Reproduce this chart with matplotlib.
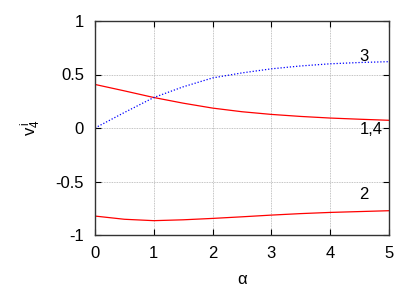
import matplotlib
matplotlib.use("Agg")
import matplotlib.pyplot as plt

plt.rcParams['font.family'] = ['Liberation Sans', 'DejaVu Sans']
plt.rcParams['mathtext.fontset'] = 'custom'
plt.rcParams['mathtext.rm'] = 'Liberation Sans'
plt.rcParams['mathtext.it'] = 'Liberation Sans'

alpha = [0, 0.5, 1, 1.5, 2, 2.5, 3, 3.5, 4, 4.5, 5]
v14 = [0.407, 0.347, 0.285, 0.232, 0.186, 0.152, 0.127, 0.108, 0.093, 0.082, 0.072]
v3 = [0.0, 0.145, 0.285, 0.385, 0.468, 0.515, 0.553, 0.58, 0.60, 0.612, 0.62]
v2 = [-0.823, -0.853, -0.866, -0.858, -0.845, -0.830, -0.814, -0.80, -0.789, -0.781, -0.773]

fig = plt.figure(figsize=(4.15, 2.91), dpi=100)
ax = fig.add_axes([95/415, 56/291, 294/415, 214/291])

ax.plot(alpha, v14, color='#ff0000', lw=0.9)
ax.plot(alpha, v3, color='#0000ff', lw=0.9, ls=(0, (1, 1.5)))
ax.plot(alpha, v2, color='#ff0000', lw=0.9)

ax.text(4.5, 0.63, "3", fontsize=12)
ax.text(4.5, -0.056, "1,4", fontsize=12)
ax.text(4.5, -0.66, "2", fontsize=12)

ax.set_xlim(0, 5)
ax.set_ylim(-1, 1)
ax.set_xticks([0, 1, 2, 3, 4, 5])
ax.set_yticks([-1, -0.5, 0, 0.5, 1])
ax.set_yticklabels(["-1", "-0.5", "0", "0.5", "1"])
ax.grid(True, color='#b0b0b0', ls=(0, (1, 1)), lw=0.6)
ax.tick_params(direction='in', top=True, right=True, labelsize=12, length=4, pad=8)
for s in ax.spines.values():
    s.set_linewidth(1.0)
    s.set_color('#333333')
ax.set_xlabel("\u03b1", fontsize=12)
ax.set_ylabel(r"v$_4^{\,i}$", fontsize=12)
ax.yaxis.set_label_coords(-0.177, 0.5)
ax.xaxis.set_label_coords(0.5, -0.174)

fig.savefig("out.png", dpi=100)
